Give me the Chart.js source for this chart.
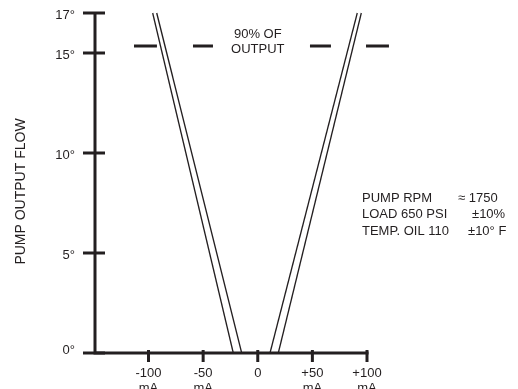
<!DOCTYPE html>
<html>
<head>
<meta charset="utf-8">
<script src="https://cdn.jsdelivr.net/npm/chart.js@4"></script>
<style>
    html, body { margin: 0; padding: 0; background: #fff; }
    #wrap { width: 518px; height: 389px; }
</style>
</head>
<body>
<div id="wrap"><canvas id="pumpChart"></canvas></div>
<script>
// Axis ticks and labels
const yTicks = [0, 5, 10, 15, 17];
const yTickLabels = ['0°', '5°', '10°', '15°', '17°'];
const xTicks = [-100, -50, 0, 50, 100];
const xTickLabels = ['-100', '-50', '0', '+50', '+100'];
const xUnit = 'mA';

// Double line, left branch (flow vs negative current)
const leftOuterX = [-96.2, -22.4];
const leftInnerX = [-92.5, -14.7];
// Double line, right branch
const rightInnerX = [91.1, 11.2];
const rightOuterX = [94.8, 18.8];
const branchFlow = [17, 0];

// 90% of output marker (dashes either side of the label)
const markerX = [-113.3, -92.3, null, -59.3, -41, null, 47.8, 67, null, 99.1, 120.1];
const markerFlow = 15.35;

const yTitle = 'PUMP OUTPUT FLOW';
const markerLabel = ['90% OF', 'OUTPUT'];
const notes = [
    ['PUMP RPM', '\u2248 1750'],
    ['LOAD 650 PSI', '\u00b110%'],
    ['TEMP. OIL 110', '\u00b110\u00b0 F']
];

const ink = '#231f20';
const font = '"Liberation Sans", Arial, sans-serif';

function branch(xs) {
    return xs.map((x, i) => ({ x: x, y: branchFlow[i] }));
}

function lineSet(data, width) {
    return {
        data: data,
        borderColor: ink,
        borderWidth: width,
        pointRadius: 0,
        fill: false,
        clip: false,
        spanGaps: false
    };
}

// Draws axes, crossing tick marks and all the text
const drawingPlugin = {
    id: 'drawing',
    afterDatasetsDraw(chart) {
        const ctx = chart.ctx;
        const xs = chart.scales.x;
        const ys = chart.scales.y;
        const x0 = xs.getPixelForValue(xs.min);
        const xEnd = xs.getPixelForValue(100);
        const yBase = ys.getPixelForValue(0);
        const yTop = ys.getPixelForValue(17);

        ctx.save();
        ctx.strokeStyle = ink;
        ctx.fillStyle = ink;
        ctx.lineWidth = 3;
        ctx.lineCap = 'butt';

        // axis lines
        ctx.beginPath();
        ctx.moveTo(x0, yTop);
        ctx.lineTo(x0, yBase + 1.5);
        ctx.moveTo(x0 - 1.5, yBase);
        ctx.lineTo(xEnd + 1.5, yBase);
        ctx.stroke();

        // y ticks and labels
        ctx.font = '13px ' + font;
        ctx.textAlign = 'right';
        ctx.textBaseline = 'alphabetic';
        yTicks.forEach((v, i) => {
            const py = ys.getPixelForValue(v);
            ctx.beginPath();
            ctx.moveTo(x0 - 12, py);
            ctx.lineTo(x0 + 10, py);
            ctx.stroke();
            ctx.fillText(yTickLabels[i], x0 - 20, py + (v === 0 ? 1 : 5.5));
        });

        // x ticks and labels
        ctx.textAlign = 'center';
        xTicks.forEach((v, i) => {
            const px = xs.getPixelForValue(v);
            ctx.beginPath();
            ctx.moveTo(px, yBase - 3);
            ctx.lineTo(px, yBase + 9);
            ctx.stroke();
            ctx.fillText(xTickLabels[i], px, yBase + 24);
            if (v !== 0) ctx.fillText(xUnit, px, yBase + 39);
        });

        // marker label
        const mx = xs.getPixelForValue(0);
        const my = ys.getPixelForValue(markerFlow);
        ctx.fillText(markerLabel[0], mx, my - 8);
        ctx.fillText(markerLabel[1], mx, my + 7);

        // notes on the right
        ctx.textAlign = 'left';
        const noteX = [458, 472, 468];
        notes.forEach((row, i) => {
            const by = 201.5 + i * 16.7;
            ctx.fillText(row[0], 362, by);
            ctx.fillText(row[1], noteX[i], by);
        });

        // y title
        ctx.font = '14px ' + font;
        ctx.translate(25, 191.5);
        ctx.rotate(-Math.PI / 2);
        ctx.textAlign = 'center';
        ctx.fillText(yTitle, 0, 0);
        ctx.restore();
    }
};

const ctx = document.getElementById('pumpChart').getContext('2d');
new Chart(ctx, {
    type: 'line',
    data: {
        datasets: [
            lineSet(branch(leftOuterX), 1.3),
            lineSet(branch(leftInnerX), 1.3),
            lineSet(branch(rightInnerX), 1.3),
            lineSet(branch(rightOuterX), 1.3),
            lineSet(markerX.map(x => ({ x: x === null ? 0 : x, y: x === null ? null : markerFlow })), 3)
        ]
    },
    options: {
        responsive: true,
        maintainAspectRatio: false,
        animation: false,
        layout: { padding: { left: 95, right: 151, top: 13, bottom: 36 } },
        plugins: {
            legend: { display: false },
            tooltip: { enabled: false }
        },
        scales: {
            x: { type: 'linear', min: -149, max: 100, display: false },
            y: { type: 'linear', min: 0, max: 17, display: false }
        }
    },
    plugins: [drawingPlugin]
});
</script>
</body>
</html>
